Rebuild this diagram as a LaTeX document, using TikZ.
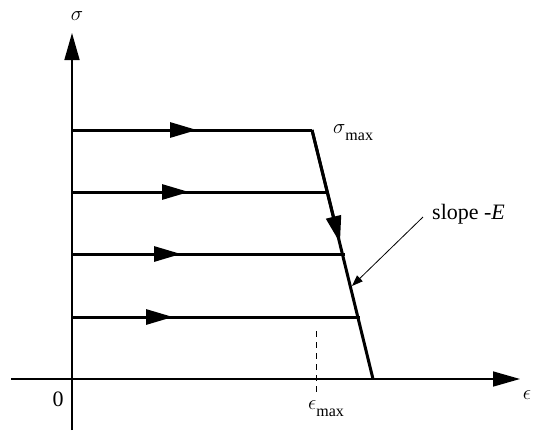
\documentclass[tikz,border=0pt]{standalone}
\usepackage{amsmath}
\usepackage{fontspec}
\setmainfont{Liberation Serif}
\usetikzlibrary{arrows.meta,positioning,calc}
\newcommand{\maxsub}{\raisebox{-0.32em}{\fontsize{16}{18}\selectfont max}}
\tikzset{
  axisline/.style ={line width=1.6pt, -{Triangle[length=27pt,width=15pt]}},
  pathline/.style ={line width=3pt},
  flowhead/.style ={line width=3pt, -{Triangle[length=27pt,width=15pt]}},
  pointer/.style  ={line width=0.8pt, -{Triangle[length=11pt,width=8pt]}},
  guideline/.style={line width=0.8pt, dash pattern=on 6pt off 5pt},
  lbl/.style      ={font=\fontsize{22}{26}\selectfont, inner sep=1pt},
}
\begin{document}
\begin{tikzpicture}[x=1pt,y=-1pt]
  \useasboundingbox (0,0) rectangle (533,437);
  % axes
  \coordinate (ybot) at (72,430);
  \coordinate (ytop) at (72,33);
  \coordinate (xleft) at (11,379);
  \coordinate (xright) at (520,379);
  \draw[axisline] (ybot) -- (ytop);
  \draw[axisline] (xleft) -- (xright);
  \node[lbl] (sig) at (77,16) {$\sigma$};
  \node[lbl] (eps) at (527,395) {$\epsilon$};
  \node[lbl] (zero) at (58,399) {0};
  % loading paths
  \coordinate (peak) at (312,130);
  \coordinate (foot) at (373,379);
  \foreach \y/\xe/\xt [count=\i] in {130/312/197, 192/328/189, 254/345/181, 317/360/173}{
    \coordinate (s\i) at (72,\y);
    \coordinate (e\i) at (\xe,\y);
    \coordinate (t\i) at (\xt,\y);
    \draw[pathline] (s\i) -- (e\i);
    \draw[flowhead] (s\i) -- (t\i);
  }
  \draw[pathline] (peak) -- (foot);
  \coordinate (slanttip) at (340,243);
  \draw[flowhead] (peak) -- (slanttip);
  \node[lbl, anchor=base west] (smax) at (332,133) {$\sigma$\maxsub};
  % strain at peak
  \coordinate (dtop) at (316,331);
  \coordinate (dbot) at (316,395);
  \draw[guideline] (dtop) -- (dbot);
  \node[lbl, anchor=base west] (emax) at (307,409) {$\epsilon$\maxsub};
  % slope label
  \node[lbl, anchor=base west] (slope) at (431,219) {slope -\textit{E}};
  \coordinate (ptr) at (423,217);
  \coordinate (hit) at (352,286);
  \draw[pointer] (ptr) -- (hit);
\end{tikzpicture}
\end{document}
